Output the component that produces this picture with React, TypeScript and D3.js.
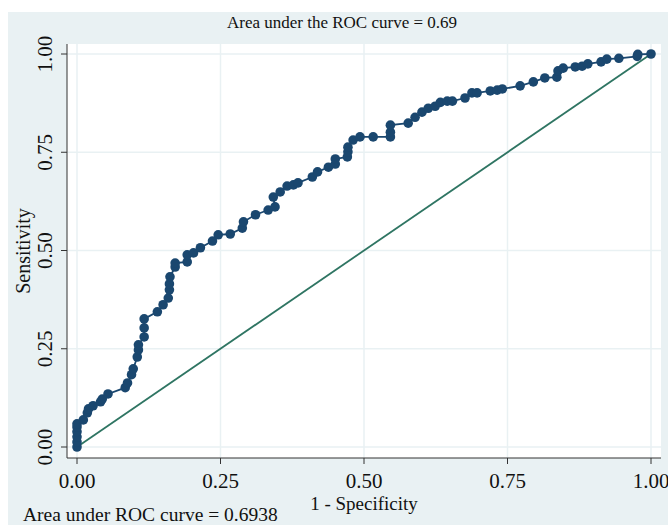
import React from "react"
import * as d3 from "d3"

// ROC points (1 - specificity, sensitivity)
const fpr = [
  0, 0, 0, 0, 0, 0, 0.011, 0.018, 0.02, 0.028, 0.041, 0.044, 0.054, 0.084, 0.088,
  0.095, 0.098, 0.105, 0.107, 0.107, 0.117, 0.117, 0.117, 0.14, 0.15, 0.159, 0.161,
  0.161, 0.162, 0.171, 0.171, 0.192, 0.192, 0.203, 0.215, 0.236, 0.246, 0.267, 0.288,
  0.29, 0.311, 0.333, 0.345, 0.342, 0.354, 0.366, 0.377, 0.385, 0.41, 0.419, 0.438,
  0.45, 0.45, 0.471, 0.472, 0.472, 0.481, 0.493, 0.516, 0.546, 0.546, 0.546, 0.577,
  0.589, 0.601, 0.612, 0.624, 0.633, 0.645, 0.654, 0.676, 0.688, 0.697, 0.72, 0.732,
  0.741, 0.772, 0.795, 0.815, 0.836, 0.838, 0.847, 0.868, 0.88, 0.89, 0.913, 0.923,
  0.944, 0.976, 0.977, 1,
]
const tpr = [
  0, 0.013, 0.026, 0.039, 0.051, 0.059, 0.069, 0.087, 0.097, 0.105, 0.115, 0.122,
  0.135, 0.151, 0.163, 0.184, 0.199, 0.229, 0.247, 0.26, 0.28, 0.303, 0.326, 0.344,
  0.362, 0.379, 0.4, 0.415, 0.433, 0.458, 0.468, 0.471, 0.489, 0.494, 0.507, 0.524,
  0.54, 0.542, 0.557, 0.573, 0.591, 0.603, 0.611, 0.636, 0.649, 0.664, 0.667, 0.672,
  0.687, 0.7, 0.712, 0.72, 0.733, 0.738, 0.751, 0.763, 0.781, 0.789, 0.789, 0.789,
  0.801, 0.819, 0.824, 0.839, 0.852, 0.862, 0.867, 0.877, 0.88, 0.88, 0.888, 0.901,
  0.901, 0.906, 0.908, 0.911, 0.919, 0.929, 0.939, 0.941, 0.957, 0.964, 0.967, 0.969,
  0.975, 0.98, 0.987, 0.989, 0.994, 0.999, 1,
]
const ticks = [0, 0.25, 0.5, 0.75, 1]

const title = "Area under the ROC curve = 0.69"
const note = "Area under ROC curve = 0.6938"
const xTitle = "1 - Specificity"
const yTitle = "Sensitivity"

const W = 668
const H = 525
const plot = { left: 67, right: 661, top: 44, bottom: 458 }
const font = "'Liberation Serif', 'Times New Roman', serif"
const navy = "#1a476f"
const bg = "#e9f1f3"

export default function App() {
  const x = d3.scaleLinear().domain([0, 1]).range([77, 651])
  const y = d3.scaleLinear().domain([0, 1]).range([447, 54])
  const pts = fpr.map((f, i) => [f, tpr[i]] as [number, number])
  const line = d3
    .line<[number, number]>()
    .x((d) => x(d[0]))
    .y((d) => y(d[1]))

  return (
    <svg
      width={W}
      height={H}
      style={{ position: "absolute", left: 0, top: 0, fontFamily: font }}
    >
      <rect x={0} y={0} width={W} height={H} fill="#fff" />
      <rect x={8} y={12} width={W - 8} height={H - 12} fill={bg} />
      <rect
        x={plot.left}
        y={plot.top}
        width={plot.right - plot.left}
        height={plot.bottom - plot.top}
        fill="#fff"
      />

      {/* grid */}
      {ticks.map((t) => (
        <g key={t}>
          <line x1={x(t)} x2={x(t)} y1={plot.top} y2={plot.bottom} stroke={bg} strokeWidth={1.5} />
          <line x1={plot.left} x2={plot.right} y1={y(t)} y2={y(t)} stroke={bg} strokeWidth={1.5} />
        </g>
      ))}

      {/* reference line */}
      <line x1={x(0)} y1={y(0)} x2={x(1)} y2={y(1)} stroke="#2f7563" strokeWidth={1.8} />

      {/* ROC curve */}
      <path d={line(pts) || ""} fill="none" stroke={navy} strokeWidth={1.8} />
      {pts.map((d, i) => (
        <circle key={i} cx={x(d[0])} cy={y(d[1])} r={4.8} fill={navy} />
      ))}

      {/* axes */}
      <line x1={plot.left} x2={plot.left} y1={plot.top} y2={plot.bottom} stroke="#333" />
      <line x1={plot.left} x2={plot.right} y1={plot.bottom} y2={plot.bottom} stroke="#333" />
      {ticks.map((t) => (
        <g key={"t" + t}>
          <line x1={plot.left - 6} x2={plot.left} y1={y(t)} y2={y(t)} stroke="#333" />
          <text
            transform={`translate(${plot.left - 15},${y(t)}) rotate(-90)`}
            textAnchor="middle"
            fontSize={21}
            fill="#111"
          >
            {t.toFixed(2)}
          </text>
          <line x1={x(t)} x2={x(t)} y1={plot.bottom} y2={plot.bottom + 6} stroke="#333" />
          <text x={x(t)} y={plot.bottom + 30} textAnchor="middle" fontSize={21} fill="#111">
            {t.toFixed(2)}
          </text>
        </g>
      ))}

      <text x={342} y={28} textAnchor="middle" fontSize={17} fill="#111">
        {title}
      </text>
      <text
        transform={`translate(30,${(plot.top + plot.bottom) / 2}) rotate(-90)`}
        textAnchor="middle"
        fontSize={20}
        fill="#111"
      >
        {yTitle}
      </text>
      <text x={(plot.left + plot.right) / 2} y={510} textAnchor="middle" fontSize={19} fill="#111">
        {xTitle}
      </text>
      <text x={23} y={521} fontSize={19.5} fill="#111">
        {note}
      </text>
    </svg>
  )
}
